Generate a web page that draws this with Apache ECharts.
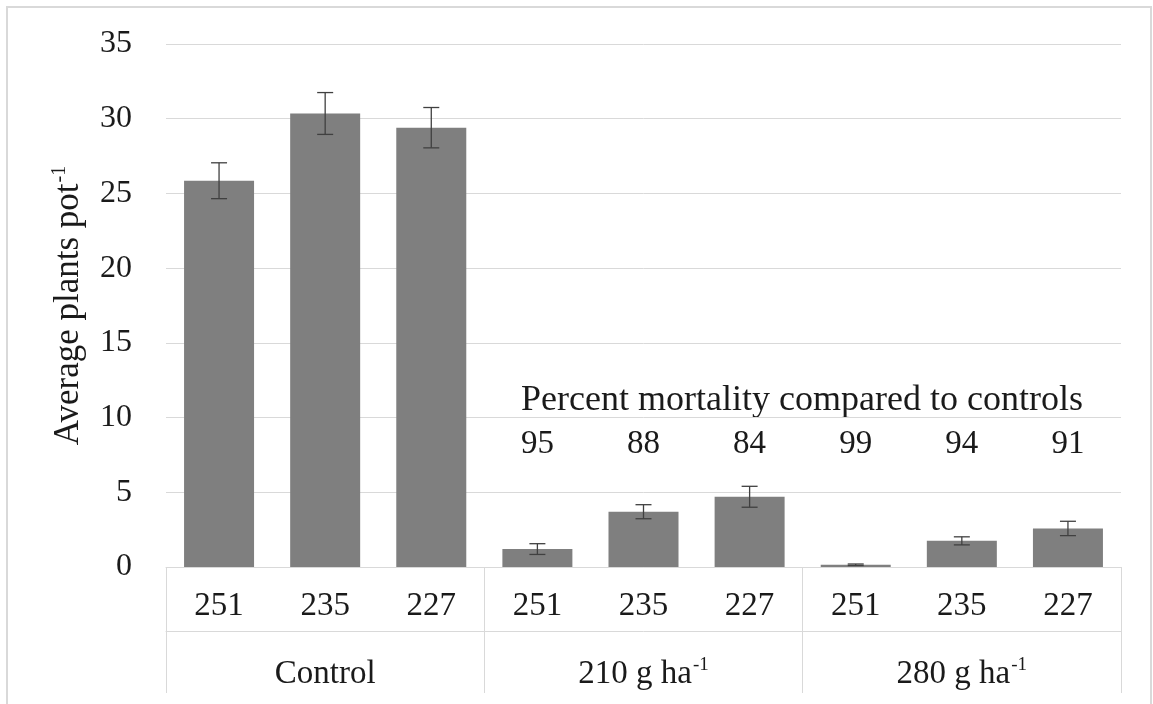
<!DOCTYPE html>
<html>
<head>
<meta charset="utf-8">
<script src="https://cdn.jsdelivr.net/npm/echarts@6/dist/echarts.min.js"></script>
<style>
html,body{margin:0;padding:0;background:#fff;}
#chart{width:1153px;height:704px;}
</style>
</head>
<body>
<div id="chart"></div>
<script>
// ---- data ----
var strains = ['251', '235', '227', '251', '235', '227', '251', '235', '227'];
var groups = ['Control', '210 g ha-1', '280 g ha-1'];
var means = [25.85, 30.35, 29.4, 1.2, 3.7, 4.7, 0.15, 1.75, 2.58];
var errors = [1.2, 1.4, 1.35, 0.36, 0.47, 0.7, 0.05, 0.27, 0.48];
var mortality = [null, null, null, 95, 88, 84, 99, 94, 91];
var mortalityTitle = 'Percent mortality compared to controls';
var mortalityLabelY = 8.2;
var yTicks = {min: 0, max: 35, interval: 5};

var FONT = "'Liberation Serif', 'Times New Roman', serif";
var TXT = '#1a1a1a';
var GRID = '#d9d9d9';

var chart = echarts.init(document.getElementById('chart'));

var errData = means.map(function (m, i) { return [i, m, errors[i]]; });
var mortData = [];
mortality.forEach(function (v, i) { if (v !== null) mortData.push([i, mortalityLabelY, v]); });

function supFormatter(v) {
  var m = /^(.*?)-1$/.exec(v);
  if (m) return '{b|' + m[1] + '}{s|-1}';
  return '{b|' + v + '}';
}

var option = {
  backgroundColor: '#fff',
  animation: false,
  textStyle: {fontFamily: FONT},
  grid: {left: 166, right: 32, top: 44, bottom: 137, containLabel: false},
  graphic: [
    {type: 'rect', shape: {x: 7, y: 7, width: 1144, height: 740},
     style: {fill: 'none', stroke: GRID, lineWidth: 2}, silent: true},
    {type: 'text', x: 802, y: 401,
     style: {text: mortalityTitle, fontFamily: FONT, fontSize: 36, fill: TXT,
             textAlign: 'center', textVerticalAlign: 'middle'}}
  ],
  xAxis: [
    {type: 'category', data: strains, position: 'bottom',
     axisLine: {show: true, lineStyle: {color: GRID, width: 1}},
     axisTick: {show: false},
     axisLabel: {margin: 23, fontSize: 33, color: TXT, fontFamily: FONT, interval: 0},
     splitLine: {show: false}},
    {type: 'category', data: groups, position: 'bottom',
     axisLine: {show: false},
     axisTick: {show: true, length: 126, lineStyle: {color: GRID, width: 1}},
     axisLabel: {margin: 89, color: TXT, fontFamily: FONT, interval: 0,
       formatter: supFormatter,
       rich: {b: {fontSize: 33, fontFamily: FONT, color: TXT, lineHeight: 36},
              s: {fontSize: 19, fontFamily: FONT, color: TXT, verticalAlign: 'top', lineHeight: 36, padding: [0, 0, 15, 1]}}},
     splitLine: {show: false}},
    {type: 'category', data: groups, position: 'bottom', offset: 64,
     axisLine: {show: true, lineStyle: {color: GRID, width: 1}},
     axisTick: {show: false}, axisLabel: {show: false}, splitLine: {show: false}}
  ],
  yAxis: {
    type: 'value', min: yTicks.min, max: yTicks.max, interval: yTicks.interval,
    name: '{b|Average plants pot}{s|-1}',
    nameLocation: 'middle', nameGap: 78, nameRotate: 90,
    nameTextStyle: {
      rich: {b: {fontSize: 35, fontFamily: FONT, color: TXT, lineHeight: 38},
             s: {fontSize: 20, fontFamily: FONT, color: TXT, verticalAlign: 'top', lineHeight: 38, padding: [0, 0, 16, 1]}}
    },
    axisLine: {show: false}, axisTick: {show: false},
    axisLabel: {margin: 34, fontSize: 32, color: TXT, fontFamily: FONT},
    splitLine: {show: true, lineStyle: {color: GRID, width: 1}}
  },
  series: [
    {type: 'bar', xAxisIndex: 0, data: means, barWidth: 70,
     itemStyle: {color: '#7f7f7f'}, z: 2},
    {type: 'custom', xAxisIndex: 0, data: errData, z: 3,
     renderItem: function (params, api) {
       var x = api.value(0), m = api.value(1), e = api.value(2);
       var top = api.coord([x, m + e]);
       var bot = api.coord([x, m - e]);
       var hw = 8;
       var st = {stroke: '#404040', lineWidth: 1.3};
       return {type: 'group', children: [
         {type: 'line', shape: {x1: top[0], y1: top[1], x2: bot[0], y2: bot[1]}, style: st},
         {type: 'line', shape: {x1: top[0] - hw, y1: top[1], x2: top[0] + hw, y2: top[1]}, style: st},
         {type: 'line', shape: {x1: bot[0] - hw, y1: bot[1], x2: bot[0] + hw, y2: bot[1]}, style: st}
       ]};
     }},
    {type: 'scatter', xAxisIndex: 0, data: mortData, symbolSize: 0, z: 4,
     itemStyle: {opacity: 1},
     label: {show: true, position: 'inside', fontSize: 33, color: TXT, opacity: 1, fontFamily: FONT,
       formatter: function (p) { return String(p.data[2]); }}}
  ]
};
chart.setOption(option);
</script>
</body>
</html>
